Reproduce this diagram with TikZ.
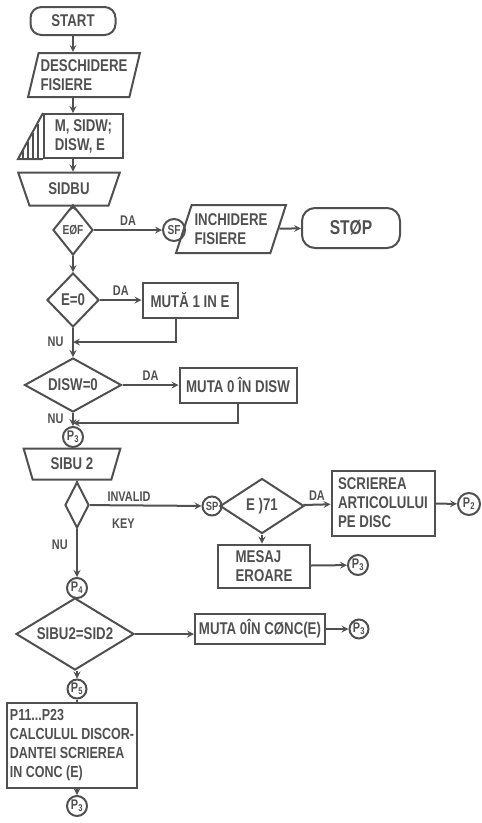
\documentclass[tikz,border=0pt]{standalone}
\usepackage{fontspec}
\setmainfont{Liberation Sans}[FakeStretch=0.78]
\usepackage{tikz}
\usetikzlibrary{shapes,arrows,positioning,calc}
\usepackage{xcolor}
\definecolor{ink}{RGB}{80,80,80}

\begin{document}
\begin{tikzpicture}[x=1pt, y=-1pt, >=stealth,
    every node/.style={text=ink, font=\fontsize{17}{19}\selectfont\bfseries},
    line/.style={draw=ink, line width=2pt},
    terminal/.style={line, rectangle, rounded corners=11pt, inner sep=0pt},
    proces/.style={line, rectangle, inner sep=3pt},
    intrare/.style={line, trapezium, trapezium left angle=72, trapezium right angle=108,
        trapezium stretches=true, inner sep=0pt},
    citire/.style={line, trapezium, trapezium left angle=116, trapezium right angle=116,
        trapezium stretches=true, inner sep=0pt},
    decizie/.style={line, diamond, inner sep=0pt},
    conector/.style={line, circle, inner sep=0pt, font=\fontsize{14}{14}\selectfont\bfseries},
    eticheta/.style={font=\fontsize{14}{14}\selectfont\bfseries}]
            \useasboundingbox (0,0) rectangle (482,823);

            % --- Deschidere fisiere ---
            \node[terminal, minimum width=85pt, minimum height=28pt] (start) at (73,21) {START};
            \node[intrare, minimum width=112pt, minimum height=44pt, align=left] (deschid) at (84,75) {DESCHIDERE\\FISIERE};
            \node[proces, minimum width=79pt, minimum height=44pt, align=left, anchor=north west] (date) at (43,113) {M, SIDW;\\DISW, E};
            \draw[line] (date.south west) -- ++(-25,0) -- (date.north west);
            \draw[ink, line width=1.2pt] ([xshift=-5pt]date.south west) -- ++(0,-35);
            \draw[ink, line width=1.2pt] ([xshift=-10pt]date.south west) -- ++(0,-26);
            \draw[ink, line width=1.2pt] ([xshift=-15pt]date.south west) -- ++(0,-17);
            \draw[ink, line width=1.2pt] ([xshift=-20pt]date.south west) -- ++(0,-8);
            \node[citire, minimum width=102pt, minimum height=33pt] (sidbu) at (69,189) {SIDBU};

            \draw[line,->] (start) -- (start.south |- deschid.north);
            \draw[line,->] (start.south |- deschid.south) -- (start.south |- date.north);
            \draw[line,->] (start.south |- date.south) -- (start.south |- sidbu.north);

            % --- Sfarsit de fisier ---
            \node[decizie, aspect=0.8, minimum width=40pt, minimum height=50pt, font=\fontsize{13}{13}\selectfont\bfseries] (eof) at (73,230) {EØF};
            \node[conector, minimum size=22pt, font=\fontsize{13}{13}\selectfont\bfseries] (sf) at (174,230) {SF};
            \node[intrare, trapezium left angle=65, trapezium right angle=115, minimum width=110pt, minimum height=48pt, align=left] (inchid) at (231,229) {INCHIDERE\\FISIERE};
            \node[terminal, minimum width=98pt, minimum height=40pt, rounded corners=13pt, font=\fontsize{20}{20}\selectfont\bfseries] (stop) at (351,228) {STØP};

            \draw[line,->] (start.south |- sidbu.south) -- (eof);
            \draw[line,->] (eof) -- (sf) node[midway, above, eticheta] {DA};
            \draw[line,->] (inchid) -- (stop);

            % --- E=0 si DISW=0 ---
            \node[decizie, aspect=1, minimum width=52pt, minimum height=54pt] (e0) at (73,300) {E=0};
            \node[proces, minimum width=95pt, minimum height=35pt] (muta1) at (190,300) {MUTĂ 1 IN E};
            \coordinate (join1) at (73,342);
            \node[decizie, aspect=1.8, minimum width=97pt, minimum height=54pt] (disw) at (73,385) {DISW=0};
            \node[proces, minimum width=117pt, minimum height=35pt] (muta0) at (238,385) {MUTA 0 ÎN DISW};
            \coordinate (join2) at (73,423);
            \node[conector, minimum size=20pt] (p3a) at (73,437) {P\textsubscript{3}};

            \draw[line,->] (eof) -- (e0);
            \draw[line,->] (e0) -- (muta1) node[midway, above, eticheta] {DA};
            \draw[line,->] ([xshift=-14pt]muta1.south) |- (join1);
            \node[eticheta, left=6pt of join1] (nu1) {NU};
            \draw[line,->] (e0) -- (disw);
            \draw[line,->] (disw) -- (muta0) node[midway, above, eticheta] {DA};
            \draw[line,->] (muta0.south) |- (join2);
            \node[eticheta, left=6pt of join2, yshift=4pt] (nu2) {NU};
            \draw[line,->] (disw) -- (p3a);

            % --- Citire SIBU 2 ---
            \node[citire, trapezium left angle=112, trapezium right angle=112, minimum width=97pt, minimum height=31pt] (sibu2) at (72,464) {SIBU 2};
            \node[decizie, aspect=0.5, minimum width=24pt, minimum height=46pt] (ik) at (77,505) {};
            \node[conector, minimum size=19pt, font=\fontsize{12}{12}\selectfont\bfseries] (sp) at (212,506) {SP};
            \node[decizie, aspect=1.5, minimum width=84pt, minimum height=55pt] (e71) at (262,506) {E )71};
            \node[proces, minimum width=103pt, minimum height=65pt, align=left] (scriere) at (383,503) {SCRIEREA\\ARTICOLULUI\\PE DISC};
            \node[conector, minimum size=22pt] (p2) at (469,504) {P\textsubscript{2}};
            \node[proces, minimum width=92pt, minimum height=43pt, align=left] (mesaj) at (264,566) {MESAJ\\EROARE};
            \node[conector, minimum size=20pt] (p3b) at (358,565) {P\textsubscript{3}};
            \node[conector, minimum size=20pt] (p4) at (77,588) {P\textsubscript{4}};

            \draw[line] (p3a) -- (p3a |- sibu2.north);
            \draw[line] (ik.north |- sibu2.south) -- (ik);
            \draw[line,->] (ik) -- (sp) node[pos=0.35, above, eticheta] {INVALID}
                node[pos=0.3, below=9pt, eticheta] {KEY};
            \draw[line,->] (e71) -- (scriere) node[midway, above, eticheta] {DA};
            \draw[line,->] (scriere) -- (p2);
            \draw[line,->] (e71) -- (e71.south |- mesaj.north);
            \draw[line,->] (mesaj) -- (p3b);
            \draw[line,->] (ik) -- (ik.south |- p4.north) node[pos=0.33, left=5pt, eticheta] {NU};

            % --- SIBU2=SID2 ---
            \node[decizie, aspect=1.64, minimum width=118pt, minimum height=72pt] (sid2) at (75,634) {SIBU2=SID2};
            \node[proces, minimum width=130pt, minimum height=30pt] (muta0c) at (260,629) {MUTA 0ÎN CØNC(E)};
            \node[conector, minimum size=19pt] (p3c) at (359,629) {P\textsubscript{3}};
            \node[conector, minimum size=19pt] (p5) at (77,689) {P\textsubscript{5}};
            \node[proces, minimum width=130pt, minimum height=85pt, align=left, font=\fontsize{16}{19}\selectfont\bfseries] (calc) at (72,745) {P11...P23\\CALCULUL DISCOR-\\DANTEI SCRIEREA\\IN CONC (E)};
            \node[conector, minimum size=20pt] (p3d) at (77,806) {P\textsubscript{3}};

            \draw[line] (p4) -- (p4 |- sid2.north);
            \draw[line,->] (sid2.east) -- (sid2.east -| muta0c.west);
            \draw[line,->] (muta0c) -- (p3c);
            \draw[line,->] (p4 |- sid2.south) -- (p5);
            \draw[line] (p5) -- (p5 |- calc.north);
            \draw[line,->] (p3d |- calc.south) -- (p3d);
        \end{tikzpicture}
\end{document}
